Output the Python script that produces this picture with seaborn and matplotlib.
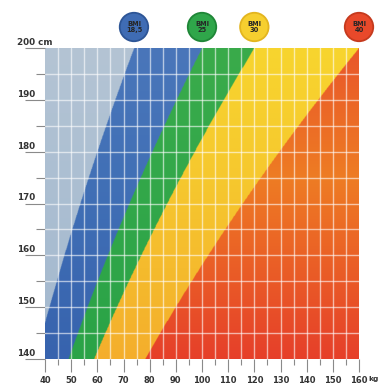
import numpy as np
import matplotlib
matplotlib.use("Agg")
import matplotlib.pyplot as plt
import matplotlib.transforms as mtransforms
from matplotlib.colors import to_rgb
import seaborn as sns

# BMI class limits and colours (colour at 200 cm, 175 cm, 140 cm)
bmi_limits = [18.5, 25, 30, 40]
badge_labels = ["BMI\n18,5", "BMI\n25", "BMI\n30", "BMI\n40"]
badge_colors = ["#3f6cb4", "#2fa64a", "#f6cf2f", "#e8492a"]
badge_edges = ["#2d5596", "#1f8637", "#e3b51f", "#c53a1e"]
zone_colors = [
    ["#b4c4d4", "#acbfd2", "#a3b8ce"],
    ["#4a76ba", "#4170b6", "#3763ae"],
    ["#3aab4b", "#33a84a", "#2aa347"],
    ["#f8d52e", "#f6c82e", "#f4ae2c"],
    ["#e9562a", "#ee7c23", "#e63f2a"],
]
weight_ticks = [40, 50, 60, 70, 80, 90, 100, 110, 120, 130, 140, 150, 160]
height_ticks = [140, 150, 160, 170, 180, 190, 200]
height_stops = [200, 175, 140]

sns.set_style("white")
plt.rcParams["font.family"] = ["DejaVu Sans"]

fig = plt.figure(figsize=(3.79, 3.92), dpi=100)
ax = fig.add_axes([45 / 379, 1 - 359 / 392, 314 / 379, 311 / 392])

# colour field
w = np.linspace(40, 160, 700)
h = np.linspace(140, 200, 400)
W, H = np.meshgrid(w, h)
bmi = W / (H / 100) ** 2
zone = np.digitize(bmi, bmi_limits)
img = np.zeros(W.shape + (3,))
for i, stops in enumerate(zone_colors):
    rgb = np.array([to_rgb(c) for c in stops])
    cols = np.stack([np.interp(H, height_stops[::-1], rgb[::-1, k]) for k in range(3)], axis=-1)
    img[zone == i] = cols[zone == i]
ax.imshow(img, extent=(40, 160, 140, 200), origin="lower", aspect="auto", interpolation="bilinear")

# white grid
for x in np.arange(45, 160, 5):
    ax.axvline(x, color="white", lw=1.0, alpha=0.6)
for y in np.arange(145, 200, 5):
    ax.axhline(y, color="white", lw=1.0, alpha=0.6)

ax.set_xlim(40, 160)
ax.set_ylim(140, 200)
for s in ax.spines.values():
    s.set_visible(False)

# ticks
ax.set_xticks(weight_ticks)
ax.set_xticks(np.arange(45, 160, 10), minor=True)
ax.set_yticks(height_ticks)
ax.set_yticks(np.arange(145, 200, 10), minor=True)
ax.tick_params(axis="x", which="major", length=9.5, width=0.8, color="#8a8a8a",
               labelsize=6.0, labelcolor="#333333", pad=2.5, bottom=True)
ax.tick_params(axis="x", which="minor", length=4.5, width=0.8, color="#8a8a8a", bottom=True)
ax.tick_params(axis="y", which="major", length=14.5, width=0.8, color="#8a8a8a", labelleft=False, left=True)
ax.tick_params(axis="y", which="minor", length=6.5, width=0.8, color="#8a8a8a", left=True)
for lab in ax.get_xticklabels():
    lab.set_fontweight("bold")

# height labels sit on their tick lines
ytrans = mtransforms.blended_transform_factory(ax.transAxes, ax.transData)
for v in height_ticks:
    txt = f"{v} cm" if v == 200 else str(v)
    ax.annotate(txt, (0, v), xycoords=ytrans, xytext=(-20, 0.8), textcoords="offset points",
                ha="left", va="bottom", fontsize=6.3, fontweight="bold", color="#333333",
                annotation_clip=False)

ax.annotate("kg", (160, 140), xycoords="data", xytext=(6.9, -14.3), textcoords="offset points",
            ha="left", va="center", fontsize=5.3, fontweight="bold", color="#333333",
            annotation_clip=False)

# BMI badges above the chart at 200 cm
bx = [b * 4.0 for b in bmi_limits]
btrans = mtransforms.blended_transform_factory(ax.transData, fig.transFigure)
by = [1 - 27 / 392] * len(bx)
ax.scatter(bx, by, s=420, c=badge_colors, edgecolors=badge_edges,
           linewidths=1.3, transform=btrans, clip_on=False, zorder=5)
for x, lab in zip(bx, badge_labels):
    ax.text(x, 1 - 27 / 392, lab, transform=btrans, ha="center", va="center",
            fontsize=4.8, fontweight="bold", color="#262626", linespacing=1.0, zorder=6)

fig.savefig("out.png", dpi=100)
